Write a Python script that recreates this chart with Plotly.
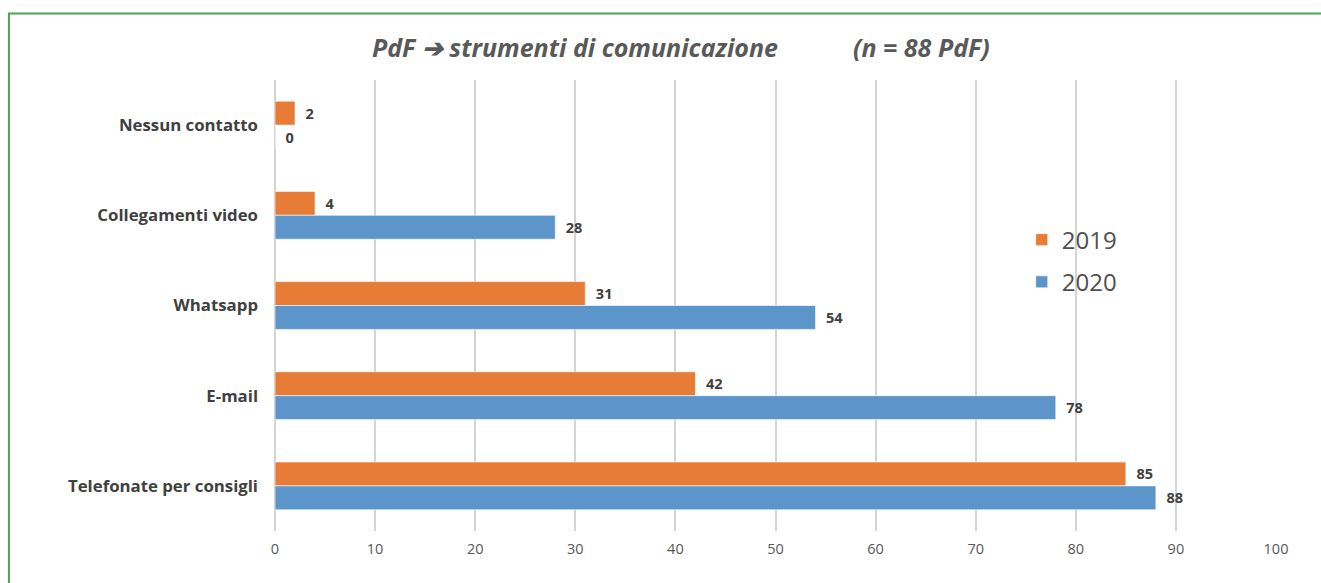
import plotly.graph_objects as go

categories = ["Nessun contatto", "Collegamenti video", "Whatsapp", "E-mail", "Telefonate per consigli"]
values_2019 = [2, 4, 31, 42, 85]
values_2020 = [0, 28, 54, 78, 88]
x_ticks = [0, 10, 20, 30, 40, 50, 60, 70, 80, 90, 100]

ORANGE = "#E67C35"
BLUE = "#5B95CA"
label_font = dict(family="Open Sans", size=14.5, color="#404040", weight="bold")

fig = go.Figure()
for name, vals, col in [("2019", values_2019, ORANGE), ("2020", values_2020, BLUE)]:
    fig.add_trace(go.Bar(
        name=name, y=categories, x=vals, orientation="h",
        marker=dict(color=col, line=dict(color="rgba(255,255,255,0.6)", width=1)),
        text=["\u00a0\u00a0" + str(v) for v in vals], textposition="outside",
        textfont=label_font, cliponaxis=False, legendgroup=name,
    ))

fig.update_layout(
    width=1321, height=583,
    margin=dict(l=275, r=45, t=80, b=52),
    paper_bgcolor="white", plot_bgcolor="white",
    barmode="group", bargap=0.47, bargroupgap=0,
    showlegend=True,
    legend=dict(x=0.746, y=0.695, xanchor="left", yanchor="top",
                font=dict(family="Open Sans", size=24, color="#505050"),
                bgcolor="rgba(0,0,0,0)", tracegroupgap=8, itemwidth=30),
    xaxis=dict(range=[0, 100], tickvals=x_ticks, showgrid=True,
               gridcolor="#D4D4D4", gridwidth=2, zeroline=True,
               zerolinecolor="#D4D4D4", zerolinewidth=2, showline=False,
               tickfont=dict(family="Open Sans", size=14.5, color="#595959"),
               ticklabelstandoff=7, fixedrange=True),
    yaxis=dict(autorange="reversed", showgrid=False, showline=False,
               tickfont=dict(family="Open Sans", size=16.8, color="#404040", weight="bold"),
               ticklabelstandoff=16),
    shapes=[dict(type="rect", xref="paper", yref="paper",
                 x0=-0.2658, x1=1.1, y0=-0.15, y1=1.1472,
                 line=dict(color="#4CA64C", width=2), layer="below")],
    annotations=[
        dict(text="<b><i>PdF ➔ strumenti di comunicazione</i></b>", xref="paper", yref="paper",
             x=(575 - 275) / 1001, y=(531 - 47) / 451, xanchor="center", yanchor="middle",
             showarrow=False, font=dict(family="Open Sans", size=25, color="#595959")),
        dict(text="<b><i>(n = 88 PdF)</i></b>", xref="paper", yref="paper",
             x=(921 - 275) / 1001, y=(531 - 47) / 451, xanchor="center", yanchor="middle",
             showarrow=False, font=dict(family="Open Sans", size=25, color="#595959")),
    ],
)

fig.write_html("out.html")
